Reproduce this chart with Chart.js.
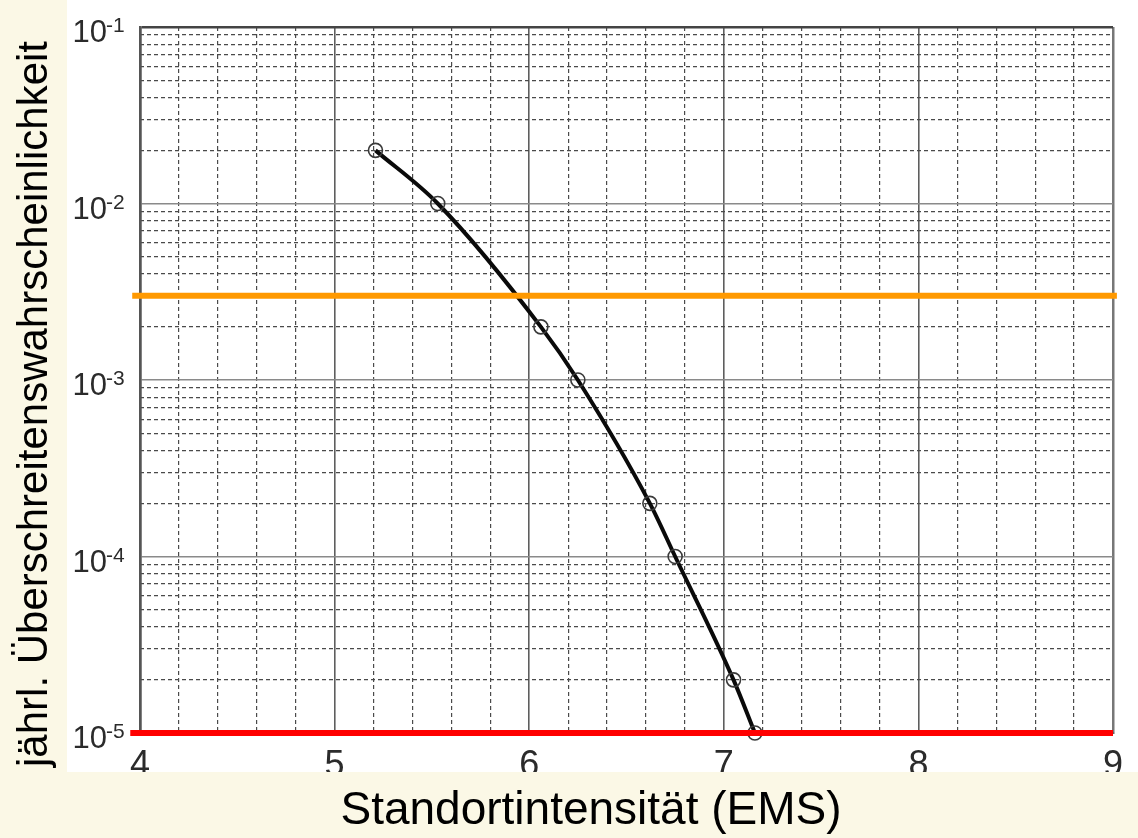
<!DOCTYPE html>
<html>
<head>
<meta charset="utf-8">
<script src="https://cdn.jsdelivr.net/npm/chart.js@4.4.1/dist/chart.umd.min.js"></script>
<style>
  html, body { margin: 0; padding: 0; background: #FBF8E6; }
  #wrap { width: 1138px; height: 838px; }
</style>
</head>
<body>
<div id="wrap"><canvas id="c" width="1138" height="838"></canvas></div>
<script>
// ---- data ----
const intensity = [5.21, 5.53, 6.06, 6.25, 6.62, 6.75, 7.05, 7.16];
const exceedProb = [0.02, 0.01, 0.002, 0.001, 0.0002, 0.0001, 0.00002, 0.00001];
const orangeX = [3.96, 9.02];
const orangeLevel = 0.003;
const redX = [3.95, 9.0];
const redLevel = 0.00001;

// ---- axes / tick labels ----
const xMin = 4, xMax = 9;
const xTickLabels = [4, 5, 6, 7, 8, 9];
const xMinorTicks = [4.2, 4.4, 4.6, 4.8, 5.2, 5.4, 5.6, 5.8, 6.2, 6.4, 6.6, 6.8, 7.2, 7.4, 7.6, 7.8, 8.2, 8.4, 8.6, 8.8];
const yDecades = [1e-1, 1e-2, 1e-3, 1e-4, 1e-5];
const yExponents = ['-1', '-2', '-3', '-4', '-5'];
const yMinorMultipliers = [2, 3, 4, 5, 6, 7, 8, 9];
const xTitle = 'Standortintensität (EMS)';
const yTitle = 'jährl. Überschreitenswahrscheinlichkeit';

const yMinorTicks = [];
[1e-5, 1e-4, 1e-3, 1e-2].forEach(d => yMinorMultipliers.forEach(m => yMinorTicks.push(+(d * m).toPrecision(3))));

const CREAM = '#FBF8E6';
const FONT = '"Liberation Sans", Arial, Helvetica, sans-serif';

const bgPlugin = {
  id: 'bg',
  beforeDraw(chart) {
    const ctx = chart.ctx;
    ctx.save();
    ctx.fillStyle = CREAM;
    ctx.fillRect(0, 0, chart.width, chart.height);
    ctx.fillStyle = '#ffffff';
    ctx.fillRect(67, 0, chart.width - 67, 772);
    ctx.restore();
  },
  afterDraw(chart) {
    const ctx = chart.ctx;
    const xs = chart.scales.xMajor;
    const ys = chart.scales.yMajor;
    ctx.save();
    // x tick labels
    ctx.fillStyle = '#2b2b2b';
    ctx.font = '36px ' + FONT;
    ctx.textAlign = 'center';
    ctx.textBaseline = 'alphabetic';
    xTickLabels.forEach(v => {
      ctx.fillText(String(v), xs.getPixelForValue(v), 776);
    });
    // cream band below the picture (cuts the tick labels like the original)
    ctx.fillStyle = CREAM;
    ctx.fillRect(0, 772, chart.width, chart.height - 772);
    // y tick labels: 10 with superscript exponent
    ctx.fillStyle = '#2b2b2b';
    yDecades.forEach((v, i) => {
      const y = ys.getPixelForValue(v);
      ctx.font = '31px ' + FONT;
      ctx.textAlign = 'right';
      ctx.fillText('10', 107, y + 15);
      ctx.font = '21px ' + FONT;
      ctx.textAlign = 'left';
      ctx.fillText(yExponents[i], 106, y + 5);
    });
    // axis titles
    ctx.fillStyle = '#000000';
    ctx.font = '46px ' + FONT;
    ctx.textAlign = 'center';
    ctx.fillText(xTitle, 591, 824);
    ctx.translate(47, 404);
    ctx.rotate(-Math.PI / 2);
    ctx.font = '42px ' + FONT;
    ctx.fillText(yTitle, 0, 0);
    ctx.restore();
  }
};

const hidden = { display: false };

new Chart(document.getElementById('c'), {
  type: 'line',
  data: {
    datasets: [
      {
        label: 'orange',
        data: orangeX.map(x => ({ x: x, y: orangeLevel })),
        borderColor: '#FF9900',
        borderWidth: 6,
        pointRadius: 0,
        clip: false,
        order: 0,
        xAxisID: 'x', yAxisID: 'y'
      },
      {
        label: 'red',
        data: redX.map(x => ({ x: x, y: redLevel })),
        borderColor: '#FF0000',
        borderWidth: 6,
        pointRadius: 0,
        clip: false,
        order: 0,
        xAxisID: 'x', yAxisID: 'y'
      },
      {
        label: 'curve',
        data: intensity.map((x, i) => ({ x: x, y: exceedProb[i] })),
        borderColor: '#0a0a0a',
        borderWidth: 4,
        cubicInterpolationMode: 'monotone',
        pointRadius: 7,
        pointBorderWidth: 1.6,
        pointBorderColor: '#3a3a3a',
        pointBackgroundColor: 'rgba(0,0,0,0)',
        clip: false,
        order: 2,
        xAxisID: 'x', yAxisID: 'y'
      }
    ]
  },
  options: {
    responsive: false,
    animation: false,
    devicePixelRatio: 1,
    layout: { padding: { left: 140, right: 25, top: 27, bottom: 105 } },
    plugins: { legend: hidden, tooltip: { enabled: false }, title: hidden },
    scales: {
      x: {
        type: 'linear', position: 'bottom', min: xMin, max: xMax,
        afterBuildTicks: s => { s.ticks = xMinorTicks.map(v => ({ value: v })); },
        afterFit: s => { s.height = 0; },
        ticks: { display: false },
        grid: { color: '#4a4a4a', lineWidth: 1.2, drawTicks: false },
        border: { display: false, dash: [4, 3] }
      },
      xMajor: {
        type: 'linear', position: 'bottom', min: xMin, max: xMax,
        afterBuildTicks: s => { s.ticks = xTickLabels.map(v => ({ value: v })); },
        afterFit: s => { s.height = 0; },
        ticks: { display: false },
        grid: {
          color: c => (c.tick && c.tick.value === xMax) ? '#777777' : '#5e5e5e',
          lineWidth: c => (c.tick && (c.tick.value === xMax || c.tick.value === xMin)) ? 2.5 : 1.6,
          drawTicks: false
        },
        border: { display: true, color: '#666666', width: 2 }
      },
      y: {
        type: 'logarithmic', position: 'left', min: 1e-5, max: 1e-1,
        afterBuildTicks: s => { s.ticks = yMinorTicks.map(v => ({ value: v })); },
        afterFit: s => { s.width = 0; },
        ticks: { display: false },
        grid: { color: '#4a4a4a', lineWidth: 1.2, drawTicks: false },
        border: { display: false, dash: [4, 3] }
      },
      yMajor: {
        type: 'logarithmic', position: 'left', min: 1e-5, max: 1e-1,
        afterBuildTicks: s => { s.ticks = yDecades.map(v => ({ value: v })); },
        afterFit: s => { s.width = 0; },
        ticks: { display: false },
        grid: {
          color: c => (c.tick && c.tick.value === 1e-1) ? '#444444' : '#8a8a8a',
          lineWidth: c => (c.tick && c.tick.value === 1e-1) ? 2.5 : 1.6,
          drawTicks: false
        },
        border: { display: true, color: '#555555', width: 2.5 }
      }
    }
  },
  plugins: [bgPlugin]
});
</script>
</body>
</html>
